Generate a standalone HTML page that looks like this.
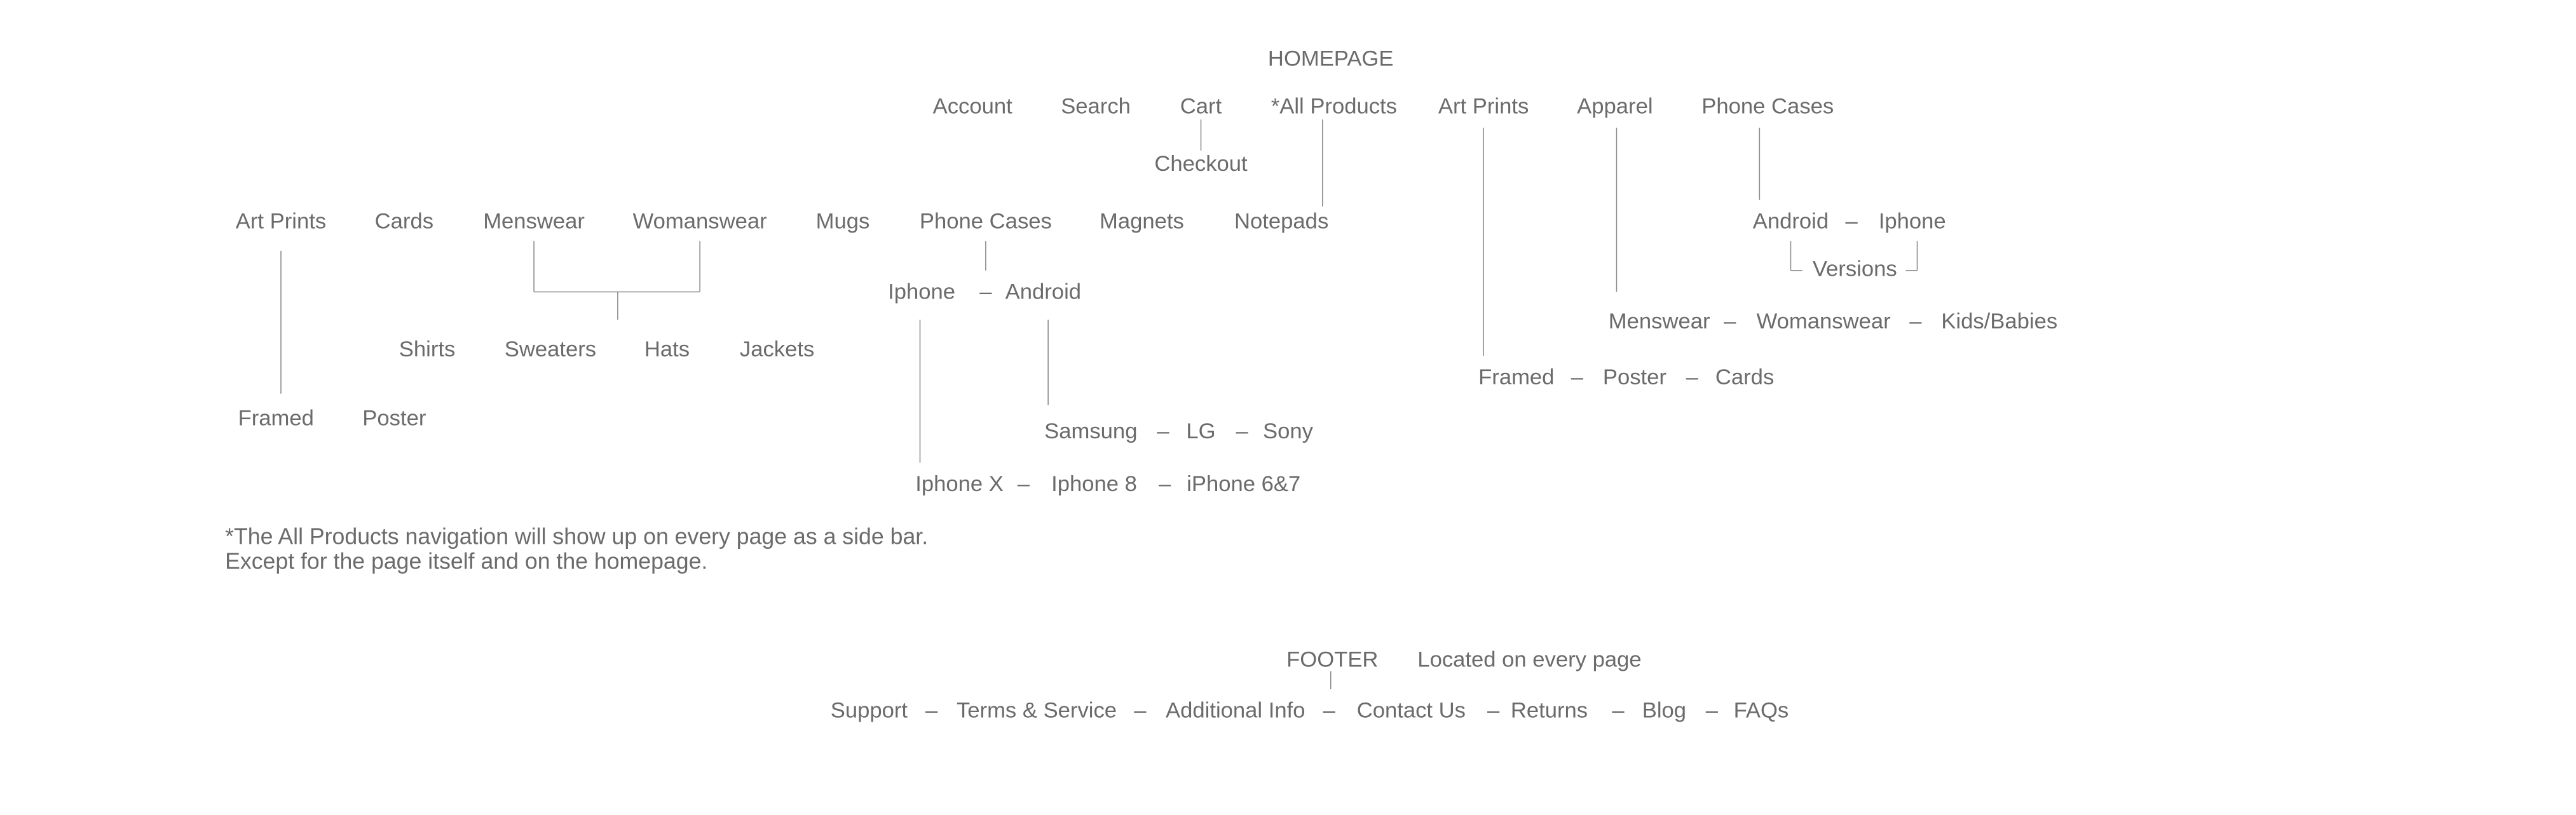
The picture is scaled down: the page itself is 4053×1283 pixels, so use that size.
<!DOCTYPE html>
<html><head><meta charset="utf-8"><style>
html,body{margin:0;padding:0;background:#fff;}
svg{display:block;}
text{font-family:"Liberation Sans",sans-serif;font-size:13.4px;fill:#6b6b6b;text-anchor:middle;dominant-baseline:central;}
line{stroke:#8a8a8a;stroke-width:0.6;}
</style></head><body>
<svg width="4053" height="1283" viewBox="0 0 1568 496">
<g transform="translate(0,0.6)">
<text x="810" y="35">HOMEPAGE</text>
<text x="592" y="64">Account</text>
<text x="667" y="64">Search</text>
<text x="731" y="64">Cart</text>
<text x="812" y="64">*All Products</text>
<text x="903" y="64">Art Prints</text>
<text x="983" y="64">Apparel</text>
<text x="1076" y="64">Phone Cases</text>
<line x1="731" y1="72" x2="731" y2="91"/>
<text x="731" y="99">Checkout</text>
<line x1="805" y1="72" x2="805" y2="125"/>
</g>
<g transform="translate(0,0.6)">
<text x="171" y="134">Art Prints</text>
<text x="246" y="134">Cards</text>
<text x="325" y="134">Menswear</text>
<text x="426" y="134">Womanswear</text>
<text x="513" y="134">Mugs</text>
<text x="600" y="134">Phone Cases</text>
<text x="695" y="134">Magnets</text>
<text x="780" y="134">Notepads</text>
<line x1="171" y1="152" x2="171" y2="239"/>
<text x="168" y="254">Framed</text>
<text x="240" y="254">Poster</text>
<line x1="325" y1="146" x2="325" y2="177"/>
<line x1="426" y1="146" x2="426" y2="177"/>
<line x1="325" y1="177" x2="426" y2="177"/>
<line x1="376" y1="177" x2="376" y2="194"/>
<text x="260" y="212">Shirts</text>
<text x="335" y="212">Sweaters</text>
<text x="406" y="212">Hats</text>
<text x="473" y="212">Jackets</text>
<line x1="600" y1="146" x2="600" y2="164"/>
<text x="561" y="177">Iphone</text>
<text x="600" y="177">–</text>
<text x="635" y="177">Android</text>
<line x1="560" y1="194" x2="560" y2="281"/>
<line x1="638" y1="194" x2="638" y2="246"/>
<text x="664" y="262">Samsung</text>
<text x="708" y="262">–</text>
<text x="731" y="262">LG</text>
<text x="756" y="262">–</text>
<text x="784" y="262">Sony</text>
<text x="584" y="294">Iphone X</text>
<text x="623" y="294">–</text>
<text x="666" y="294">Iphone 8</text>
<text x="709" y="294">–</text>
<text x="757" y="294">iPhone 6&amp;7</text>
</g>
<g transform="translate(0,0.6)">
<line x1="903" y1="77" x2="903" y2="216"/>
<text x="923" y="229">Framed</text>
<text x="960" y="229">–</text>
<text x="995" y="229">Poster</text>
<text x="1030" y="229">–</text>
<text x="1062" y="229">Cards</text>
<line x1="984" y1="77" x2="984" y2="177"/>
<text x="1010" y="195">Menswear</text>
<text x="1053" y="195">–</text>
<text x="1110" y="195">Womanswear</text>
<text x="1166" y="195">–</text>
<text x="1217" y="195">Kids/Babies</text>
<line x1="1071" y1="77" x2="1071" y2="121"/>
<text x="1090" y="134">Android</text>
<text x="1127" y="134">–</text>
<text x="1164" y="134">Iphone</text>
<line x1="1090" y1="146" x2="1090" y2="164"/>
<line x1="1090" y1="164" x2="1097" y2="164"/>
<line x1="1167" y1="146" x2="1167" y2="164"/>
<line x1="1160" y1="164" x2="1167" y2="164"/>
<text x="1129" y="163">Versions</text>
</g>
<g transform="translate(0,0.6)">
<text x="137" y="326" style="text-anchor:start;font-size:13.8px">*The All Products navigation will show up on every page as a side bar.</text>
<text x="137" y="341" style="text-anchor:start;font-size:13.8px">Except for the page itself and on the homepage.</text>
</g>
<g transform="translate(0,0.6)">
<text x="811" y="401">FOOTER</text>
<text x="931" y="401">Located on every page</text>
<line x1="810" y1="408" x2="810" y2="419"/>
<text x="529" y="432">Support</text>
<text x="567" y="432">–</text>
<text x="631" y="432">Terms &amp; Service</text>
<text x="694" y="432">–</text>
<text x="752" y="432">Additional Info</text>
<text x="809" y="432">–</text>
<text x="859" y="432">Contact Us</text>
<text x="909" y="432">–</text>
<text x="943" y="432">Returns</text>
<text x="985" y="432">–</text>
<text x="1013" y="432">Blog</text>
<text x="1042" y="432">–</text>
<text x="1072" y="432">FAQs</text>
</g>
</svg>
</body></html>
